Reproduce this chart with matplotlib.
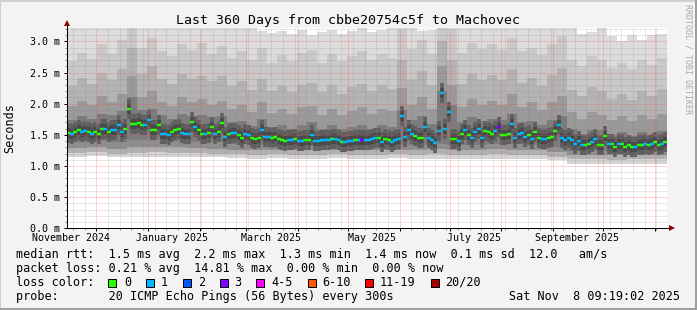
import datetime as dt

import numpy as np
import matplotlib
matplotlib.use('Agg')
import matplotlib.pyplot as plt
import matplotlib.dates as mdates
from matplotlib.lines import Line2D
from matplotlib.patches import Rectangle
from matplotlib.ticker import MultipleLocator, FuncFormatter

plt.rcParams['font.family'] = 'DejaVu Sans Mono'

# graph start = now - 360 days
start = dt.datetime(2024, 11, 13, 9, 19, 2)
t0 = mdates.date2num(start)

# median rtt (ms), one value every 2 days, and its loss class
med_day = np.arange(1, 360, 2)
med_ms = [
    1.53, 1.51, 1.55, 1.58, 1.55, 1.56, 1.55, 1.52, 1.55, 1.52, 1.59, 1.60, 1.55, 1.57, 1.57,
    1.66, 1.55, 1.60, 1.91, 1.67, 1.68, 1.69, 1.66, 1.65, 1.74, 1.58, 1.58, 1.66, 1.52, 1.51,
    1.50, 1.55, 1.58, 1.60, 1.53, 1.52, 1.52, 1.71, 1.63, 1.57, 1.52, 1.52, 1.53, 1.63, 1.52,
    1.54, 1.69, 1.47, 1.52, 1.53, 1.53, 1.50, 1.45, 1.52, 1.50, 1.45, 1.43, 1.45, 1.58, 1.46,
    1.46, 1.45, 1.46, 1.44, 1.42, 1.40, 1.42, 1.42, 1.43, 1.40, 1.40, 1.42, 1.42, 1.50, 1.40,
    1.40, 1.41, 1.42, 1.42, 1.43, 1.44, 1.42, 1.38, 1.39, 1.40, 1.40, 1.42, 1.42, 1.42, 1.42,
    1.42, 1.43, 1.45, 1.45, 1.39, 1.43, 1.42, 1.39, 1.42, 1.44, 1.80, 1.46, 1.58, 1.52, 1.48,
    1.45, 1.45, 1.63, 1.45, 1.42, 1.37, 1.56, 2.17, 1.60, 1.87, 1.43, 1.43, 1.40, 1.52, 1.58,
    1.50, 1.45, 1.55, 1.60, 1.45, 1.56, 1.54, 1.52, 1.56, 1.63, 1.50, 1.50, 1.52, 1.68, 1.45,
    1.52, 1.53, 1.47, 1.50, 1.43, 1.54, 1.45, 1.43, 1.43, 1.45, 1.47, 1.56, 1.66, 1.45, 1.42,
    1.45, 1.42, 1.36, 1.40, 1.33, 1.34, 1.35, 1.39, 1.44, 1.33, 1.33, 1.48, 1.35, 1.36, 1.31,
    1.35, 1.35, 1.30, 1.34, 1.30, 1.31, 1.33, 1.34, 1.36, 1.34, 1.35, 1.38, 1.34, 1.35, 1.38,
]
med_loss = [
    0, 1, 0, 0, 1, 1, 0, 1, 0, 0, 0, 1, 0, 1, 1,
    1, 1, 0, 0, 0, 0, 0, 0, 1, 1, 0, 0, 0, 1, 1,
    1, 0, 0, 0, 1, 1, 1, 0, 1, 0, 0, 1, 0, 0, 1,
    0, 0, 1, 0, 1, 1, 0, 0, 1, 1, 0, 0, 0, 1, 1,
    1, 0, 0, 0, 0, 0, 1, 1, 0, 1, 1, 0, 0, 1, 1,
    1, 1, 1, 1, 0, 1, 1, 0, 1, 1, 1, 0, 1, 3, 1,
    1, 1, 1, 0, 1, 0, 0, 1, 1, 1, 1, 1, 1, 1, 0,
    0, 0, 1, 1, 1, 1, 1, 1, 1, 1, 0, 0, 1, 0, 1,
    0, 1, 1, 1, 1, 0, 0, 0, 1, 3, 0, 0, 0, 1, 1,
    1, 1, 1, 0, 1, 0, 0, 1, 1, 0, 0, 0, 1, 1, 1,
    1, 1, 1, 1, 1, 0, 0, 1, 1, 0, 0, 0, 1, 0, 0,
    1, 0, 0, 0, 0, 1, 0, 0, 1, 0, 1, 0, 0, 1, 0,
]

# smoke: upper edges of the gray bands (ms), one value per 6 days
smoke_top = [
    3.4, 3.4, 3.4, 3.4, 3.4, 3.4, 3.4, 3.4, 3.4, 3.4, 3.4, 3.4, 3.4, 3.4, 3.4,
    3.4, 3.4, 3.4, 3.4, 3.16, 3.13, 3.17, 3.12, 3.18, 3.10, 3.15, 3.19, 3.12, 3.16, 3.4,
    3.15, 3.18, 3.4, 3.4, 3.4, 3.16, 3.18, 3.4, 3.4, 3.4, 3.4, 3.4, 3.4, 3.4, 3.4,
    3.4, 3.4, 3.4, 3.4, 3.4, 3.4, 3.12, 3.15, 3.4, 3.08, 3.00, 3.10, 3.02, 3.10, 3.12,
]
smoke_u1 = [
    2.68, 2.82, 2.72, 2.95, 2.80, 3.02, 3.40, 2.90, 3.05, 2.84, 2.76, 2.95, 2.86, 2.98, 2.80,
    2.92, 2.74, 2.85, 2.70, 2.90, 2.66, 2.78, 2.68, 2.82, 2.86, 2.66, 2.80, 2.68, 2.76, 2.84,
    2.70, 2.80, 2.74, 3.20, 2.88, 3.02, 2.80, 3.40, 3.20, 2.82, 2.98, 2.88, 2.96, 2.86, 3.05,
    2.84, 2.90, 2.78, 2.95, 3.08, 2.70, 2.60, 2.76, 2.70, 2.58, 2.66, 2.56, 2.70, 2.62, 2.74,
]
smoke_u2 = [
    2.28, 2.42, 2.32, 2.50, 2.38, 2.55, 2.90, 2.48, 2.60, 2.40, 2.32, 2.48, 2.40, 2.45, 2.36,
    2.45, 2.28, 2.36, 2.22, 2.40, 2.20, 2.28, 2.18, 2.30, 2.34, 2.18, 2.30, 2.16, 2.26, 2.32,
    2.20, 2.30, 2.24, 2.70, 2.38, 2.52, 2.30, 3.00, 2.70, 2.32, 2.48, 2.38, 2.46, 2.38, 2.55,
    2.34, 2.42, 2.28, 2.46, 2.58, 2.22, 2.12, 2.26, 2.20, 2.08, 2.16, 2.06, 2.20, 2.12, 2.24,
]
smoke_u3 = [
    1.96, 2.05, 1.98, 2.12, 2.02, 2.15, 2.45, 2.10, 2.20, 2.02, 1.96, 2.10, 2.02, 2.08, 1.98,
    2.05, 1.92, 1.98, 1.86, 2.02, 1.85, 1.92, 1.83, 1.94, 1.96, 1.82, 1.92, 1.82, 1.88, 1.94,
    1.84, 1.92, 1.88, 2.25, 1.98, 2.10, 1.92, 2.60, 2.30, 1.95, 2.08, 1.98, 2.05, 1.98, 2.15,
    1.95, 2.02, 1.90, 2.02, 2.12, 1.86, 1.76, 1.86, 1.82, 1.74, 1.80, 1.72, 1.82, 1.76, 1.84,
]
smoke_u4 = [
    1.74, 1.80, 1.76, 1.84, 1.82, 1.88, 2.10, 1.90, 1.92, 1.82, 1.76, 1.84, 1.80, 1.82, 1.78,
    1.80, 1.70, 1.72, 1.64, 1.76, 1.62, 1.66, 1.60, 1.66, 1.70, 1.60, 1.66, 1.59, 1.62, 1.66,
    1.60, 1.66, 1.62, 1.90, 1.74, 1.80, 1.68, 2.20, 1.98, 1.70, 1.78, 1.72, 1.76, 1.74, 1.84,
    1.70, 1.72, 1.66, 1.74, 1.80, 1.60, 1.52, 1.58, 1.58, 1.50, 1.54, 1.48, 1.54, 1.50, 1.56,
]
# smoke: lower edges (ms), one value per 12 days
smoke_lo1 = [1.15, 1.16, 1.14, 1.15, 1.15, 1.14, 1.15, 1.14, 1.13, 1.12, 1.13, 1.12, 1.12, 1.13, 1.12,
             1.12, 1.13, 1.12, 1.12, 1.11, 1.12, 1.12, 1.11, 1.12, 1.09, 1.04, 1.04, 1.03, 1.04, 1.04]
smoke_lo2 = [1.21, 1.22, 1.20, 1.21, 1.22, 1.21, 1.21, 1.20, 1.19, 1.18, 1.19, 1.18, 1.18, 1.19, 1.18,
             1.18, 1.19, 1.18, 1.19, 1.18, 1.18, 1.19, 1.18, 1.18, 1.15, 1.11, 1.11, 1.10, 1.11, 1.11]
smoke_lo3 = [1.29, 1.30, 1.28, 1.30, 1.31, 1.30, 1.29, 1.28, 1.26, 1.25, 1.26, 1.25, 1.25, 1.26, 1.25,
             1.25, 1.26, 1.26, 1.27, 1.26, 1.26, 1.27, 1.26, 1.26, 1.22, 1.18, 1.18, 1.17, 1.18, 1.18]
smoke_lo4 = [1.38, 1.40, 1.38, 1.42, 1.43, 1.40, 1.39, 1.38, 1.35, 1.33, 1.34, 1.33, 1.32, 1.33, 1.32,
             1.32, 1.34, 1.34, 1.36, 1.34, 1.34, 1.36, 1.35, 1.34, 1.30, 1.24, 1.24, 1.22, 1.24, 1.24]

loss_labels = ['0', '1', '2', '3', '4-5', '6-10', '11-19', '20/20']
loss_colors = ['#26ff00', '#00b8ff', '#0059ff', '#7e00ff', '#ff00ff', '#ff5500', '#ff0000', '#a10000']

tick_months = [(2024, 11), (2025, 1), (2025, 3), (2025, 5), (2025, 7), (2025, 9)]
tick_labels = ['November 2024', 'January 2025', 'March 2025', 'May 2025', 'July 2025', 'September 2025']

title = 'Last 360 Days from cbbe20754c5f to Machovec'
legend_lines = [
    'median rtt:  1.5 ms avg  2.2 ms max  1.3 ms min  1.4 ms now  0.1 ms sd  12.0   am/s',
    'packet loss: 0.21 % avg  14.81 % max  0.00 % min  0.00 % now',
    'loss color:',
    'probe:       20 ICMP Echo Pings (56 Bytes) every 300s',
]
stamp = 'Sat Nov  8 09:19:02 2025'

W, H = 697, 310


def px(n):
    return n * 0.72


def fx(x):
    return x / W


def fy(y):
    return 1 - y / H


fig = plt.figure(figsize=(W / 100, H / 100), dpi=100, facecolor='#f3f3f3')
ax = fig.add_axes([fx(67), fy(228.3), 600 / W, 200 / H])
ax.set_facecolor('white')
ax.set_axisbelow(False)

# smoke, upper side (light to dark)
ux = t0 + 6 * np.arange(61)
for arr, col in [(smoke_top, '#dcdcdc'), (smoke_u1, '#c9c9c9'), (smoke_u2, '#b3b3b3'),
                 (smoke_u3, '#9a9a9a'), (smoke_u4, '#7c7c7c')]:
    ax.fill_between(ux, 0.9, np.append(arr, arr[-1]), step='post', color=col, lw=0, zorder=1)

# smoke, lower side
lx = t0 + 12 * np.arange(31)
for arr, col in [(smoke_lo4, '#8e8e8e'), (smoke_lo3, '#b0b0b0'), (smoke_lo2, '#d4d4d4'),
                 (smoke_lo1, 'white')]:
    ax.fill_between(lx, 0, np.append(arr, arr[-1]), step='post', color=col, lw=0, zorder=1.1)

# dark core round the median
mx = t0 + med_day
ax.plot(mx, med_ms, ls='none', marker='|', ms=px(20), mew=px(3.6), color='#5e5e5e', zorder=1.5)
ax.plot(mx, med_ms, ls='none', marker='|', ms=px(10), mew=px(3.6), color='#484848', zorder=1.6)

# median points coloured by loss
ms_arr = np.asarray(med_ms)
ls_arr = np.asarray(med_loss)
for k in sorted(set(med_loss)):
    sel = ls_arr == k
    ax.plot(mx[sel], ms_arr[sel], ls='none', marker='_', ms=px(3.4), mew=px(2.4),
            color=loss_colors[k], zorder=3)

ax.set_xlim(t0, t0 + 360)
ax.set_ylim(0, 3.21)

ax.xaxis.set_major_locator(mdates.MonthLocator())
ax.xaxis.set_minor_locator(mdates.WeekdayLocator(byweekday=mdates.SU))
ax.xaxis.set_major_formatter(FuncFormatter(lambda v, p: ''))
ax.yaxis.set_major_locator(MultipleLocator(0.5))
ax.yaxis.set_minor_locator(MultipleLocator(0.1))
ax.yaxis.set_major_formatter(FuncFormatter(lambda v, p: '%.1f m' % v))

dot = (0, (1, 1))
ax.grid(True, which='major', color='#ff4d4d', alpha=0.5, lw=px(1), ls=dot)
ax.grid(True, which='minor', color='#808080', alpha=0.35, lw=px(1), ls=dot)

ax.tick_params(which='major', direction='out', length=3 * 0.72, width=px(1), color='black',
               labelsize=7.2, pad=3)
ax.tick_params(which='minor', direction='out', length=2 * 0.72, width=px(1), color='#888888')

for s in ax.spines.values():
    s.set_visible(False)

# axis lines with arrows
ax.plot([0, 1.006], [0, 0], transform=ax.transAxes, color='black', lw=px(1), clip_on=False, zorder=4)
ax.plot([0, 0], [0, 1.025], transform=ax.transAxes, color='black', lw=px(1), clip_on=False, zorder=4)
ax.plot([1.0075], [0], transform=ax.transAxes, marker='>', ms=px(6), color='#8b0000',
        mew=0, clip_on=False, zorder=5)
ax.plot([0], [1.025], transform=ax.transAxes, marker='^', ms=px(6), color='#8b0000',
        mew=0, clip_on=False, zorder=5)

for (yy, mm), lab in zip(tick_months, tick_labels):
    ax.text(mdates.date2num(dt.datetime(yy, mm, 15, 12)), -0.0635, lab,
            transform=ax.get_xaxis_transform(), ha='center', va='baseline', fontsize=7.2)

fig.text(fx(348.5), fy(24), title, ha='center', va='baseline', fontsize=9.5)
fig.text(fx(10), fy(128), 'Seconds', rotation=90, ha='center', va='center', fontsize=8.5)
fig.text(fx(688), fy(4), 'RRDTOOL / TOBI OETIKER', rotation=270, ha='center', va='top',
         fontsize=6, color='#a8a8a8')

for i, line in enumerate(legend_lines):
    fig.text(fx(16), fy(257.7 + 14 * i), line, ha='left', va='baseline', fontsize=8.5)
fig.text(fx(680), fy(299.5), stamp, ha='right', va='baseline', fontsize=8.5)

box_x = [108, 145.5, 182.5, 219.5, 256, 307.5, 365, 430.5]
lab_x = [124, 161, 198, 234.5, 271, 322.5, 380, 445.5]
for bx, lx_, col, lab in zip(box_x, lab_x, loss_colors, loss_labels):
    fig.add_artist(Rectangle((fx(bx), fy(286.5)), 8 / W, 8 / H, transform=fig.transFigure,
                             facecolor=col, edgecolor='black', lw=px(1)))
    fig.text(fx(lx_), fy(285.7), lab, ha='left', va='baseline', fontsize=8.5)

# 3d frame of the canvas
for xs, ys, c in [([0, 0], [0, H], '#cfcfcf'), ([0, W], [H - 0.5, H - 0.5], '#cfcfcf'),
                  ([W - 1, W - 1], [0, H], '#9e9e9e'), ([0, W], [1, 1], '#9e9e9e')]:
    fig.add_artist(Line2D([fx(v) for v in xs], [y / H for y in ys], transform=fig.transFigure,
                          color=c, lw=px(2)))

fig.savefig('out.png', dpi=100, facecolor=fig.get_facecolor())
